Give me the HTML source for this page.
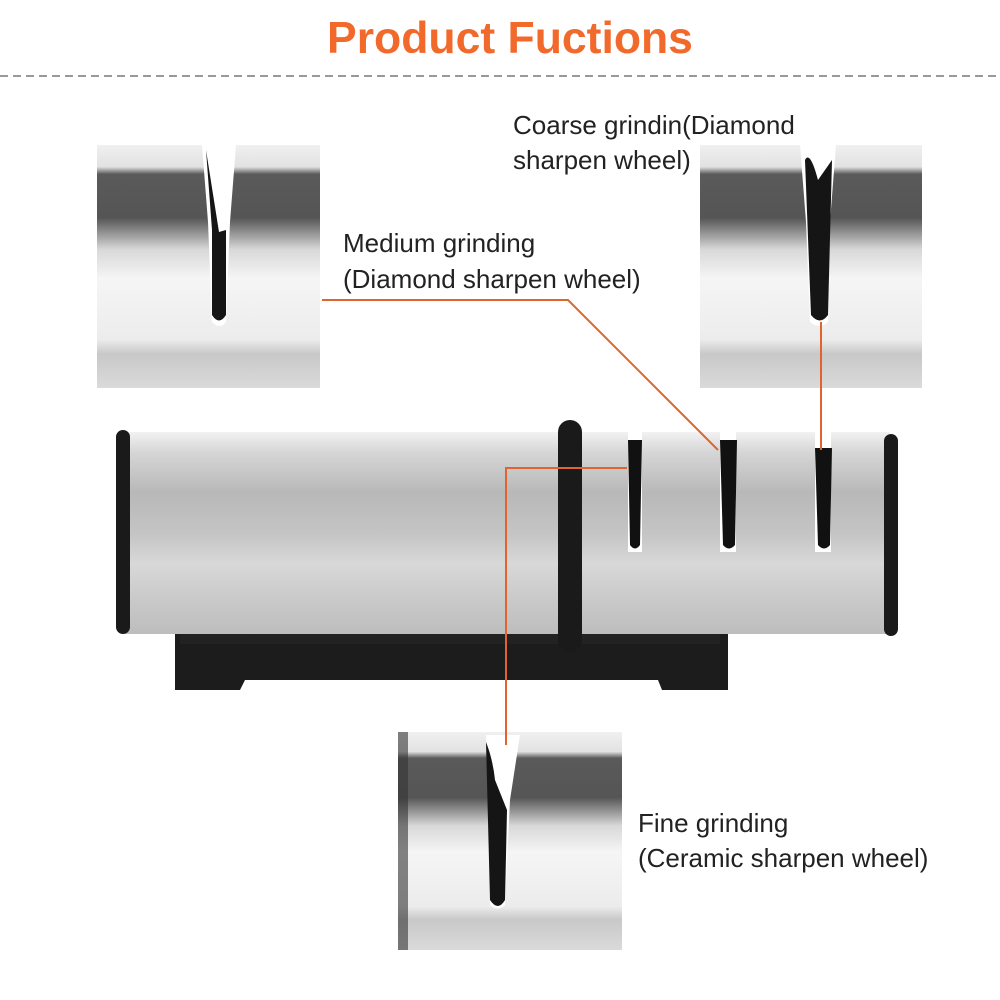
<!DOCTYPE html>
<html><head><meta charset="utf-8"><style>
html,body{margin:0;padding:0;background:#fff;}
svg{display:block;}
text{font-family:"Liberation Sans",Arial,sans-serif;}
</style></head><body>
<svg width="1000" height="1000" viewBox="0 0 1000 1000" xmlns="http://www.w3.org/2000/svg">
<defs>
<linearGradient id="crop" x1="0" y1="0" x2="0" y2="1">
<stop offset="0" stop-color="#f0f0f0"/><stop offset="0.09" stop-color="#e2e2e2"/>
<stop offset="0.12" stop-color="#5a5a5a"/><stop offset="0.3" stop-color="#555"/>
<stop offset="0.43" stop-color="#d8d8d8"/><stop offset="0.55" stop-color="#f5f5f5"/>
<stop offset="0.8" stop-color="#ececec"/><stop offset="0.86" stop-color="#c8c8c8"/>
<stop offset="1" stop-color="#dadada"/></linearGradient>
<linearGradient id="cyl" x1="0" y1="0" x2="0" y2="1">
<stop offset="0" stop-color="#f2f2f2"/><stop offset="0.1" stop-color="#d6d6d6"/>
<stop offset="0.3" stop-color="#b8b8b8"/><stop offset="0.5" stop-color="#c4c4c4"/>
<stop offset="0.65" stop-color="#d8d8d8"/><stop offset="0.85" stop-color="#c8c8c8"/>
<stop offset="1" stop-color="#bdbdbd"/></linearGradient>
</defs>
<text x="510" y="53" text-anchor="middle" font-size="44.5" font-weight="bold" fill="#f26a2b">Product Fuctions</text>
<line x1="0" y1="76" x2="1000" y2="76" stroke="#999" stroke-width="2" stroke-dasharray="8,5"/>

<rect x="97" y="145" width="223" height="243" fill="url(#crop)"/>
<path d="M202 145 L236 145 L230 222 L226 322 Q220 330 212 322 L208 222 Z" fill="#fff"/>
<path d="M206 150 L212 230 L212 315 Q219 326 226 315 L226 230 L219 232 Z" fill="#151515"/>

<rect x="700" y="145" width="222" height="243" fill="url(#crop)"/>
<path d="M800 145 L836 145 L830 222 L828 322 Q820 330 810 322 L806 222 Z" fill="#fff"/>
<path d="M805 160 Q810 150 818 180 L832 160 L828 315 Q820 326 811 315 Z" fill="#151515"/>

<rect x="398" y="732" width="224" height="218" fill="url(#crop)"/>
<rect x="398" y="732" width="10" height="218" fill="#333" opacity="0.6"/>
<path d="M486 735 L520 735 L510 800 L505 905 Q498 912 490 905 L488 800 Z" fill="#fff"/>
<path d="M486 742 Q493 760 495 780 L507 810 L505 900 Q498 912 490 900 Z" fill="#151515"/>

<path d="M175 628 L728 628 L728 690 L662 690 L658 680 L245 680 L240 690 L175 690 Z" fill="#1c1c1c"/>
<rect x="180" y="614" width="540" height="30" fill="#222"/>
<rect x="125" y="432" width="765" height="202" fill="url(#cyl)"/>
<rect x="116" y="430" width="14" height="204" rx="7" fill="#1a1a1a"/>
<rect x="884" y="434" width="14" height="202" rx="7" fill="#1a1a1a"/>
<rect x="628" y="432" width="14" height="120" fill="#fff"/>
<path d="M628 440 L642 440 L640 545 Q635 552 630 545 Z" fill="#111"/>
<rect x="720" y="432" width="16" height="120" fill="#fff"/>
<path d="M720 440 L737 440 L735 545 Q729 552 723 545 Z" fill="#111"/>
<rect x="815" y="432" width="16" height="120" fill="#fff"/>
<path d="M815 448 L832 448 L830 545 Q824 552 818 545 Z" fill="#111"/>
<rect x="558" y="420" width="24" height="232" rx="12" fill="#1a1a1a"/>

<polyline points="322,300 568,300 718,450" fill="none" stroke="#e0652d" stroke-width="2"/>
<line x1="821" y1="322" x2="821" y2="450" stroke="#e0652d" stroke-width="2"/>
<polyline points="627,468 506,468 506,745" fill="none" stroke="#e0652d" stroke-width="2"/>

<g font-size="26" fill="#222">
<text x="513" y="134">Coarse grindin(Diamond</text>
<text x="513" y="169">sharpen wheel)</text>
<text x="343" y="252">Medium grinding</text>
<text x="343" y="288">(Diamond sharpen wheel)</text>
<text x="638" y="832">Fine grinding</text>
<text x="638" y="867">(Ceramic sharpen wheel)</text>
</g>
</svg>
</body></html>
